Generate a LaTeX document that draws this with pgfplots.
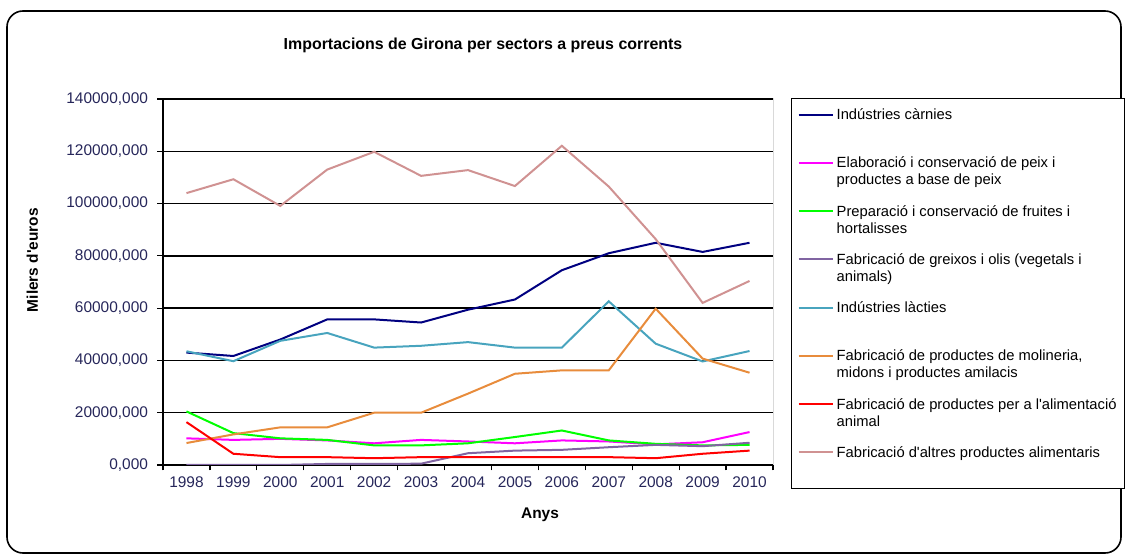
\documentclass[border=0pt]{standalone}
\usepackage{fontspec}
\setmainfont{Liberation Sans}
\usepackage{pgfplots}
\pgfplotsset{compat=1.18}
\definecolor{tickc}{RGB}{38,38,90}
\definecolor{cNavy}{RGB}{0,0,128}
\definecolor{cPeix}{RGB}{255,0,255}
\definecolor{cFruit}{RGB}{0,255,0}
\definecolor{cGreix}{RGB}{128,100,162}
\definecolor{cLact}{RGB}{72,164,190}
\definecolor{cMol}{RGB}{232,140,60}
\definecolor{cAnim}{RGB}{255,0,0}
\definecolor{cAltr}{RGB}{208,146,146}
\newcommand{\lgt}[2]{\begin{tabular}[t]{@{}l@{}}#1\\#2\end{tabular}}
\newcommand{\q}{\textquotesingle}
\begin{document}
\begin{tikzpicture}
\useasboundingbox (0,0) rectangle (1126bp,557bp);
\draw[line width=1.6bp, rounded corners=16bp] (7bp,4bp) rectangle (1121bp,546bp);
\begin{axis}[
  at={(163bp,92bp)}, anchor=south west,
  scale only axis, width=610bp, height=366bp,
  xmin=-0.5, xmax=12.5, ymin=0, ymax=140000,
  scaled y ticks=false,
  xtick={-0.5,0.5,1.5,2.5,3.5,4.5,5.5,6.5,7.5,8.5,9.5,10.5,11.5,12.5},
  x tick label as interval,
  xticklabels={1998,1999,2000,2001,2002,2003,2004,2005,2006,2007,2008,2009,2010},
  ytick={0,20000,40000,60000,80000,100000,120000,140000},
  yticklabels={{0,000},{20000,000},{40000,000},{60000,000},{80000,000},{100000,000},{120000,000},{140000,000}},
  axis x line*=bottom, axis y line*=left,
  axis line style={black, line width=1.5bp, -},
  axis background/.style={draw=black!15, line width=1bp},
  ymajorgrids, major grid style={black, line width=1.5bp},
  tick align=outside, major tick length=5.5bp,
  tick style={black, line width=1.2bp},
  ticklabel style={text=tickc, font=\fontsize{15.5}{18}\selectfont},
  yticklabel style={xshift=-6bp},
  xticklabel style={yshift=-3bp},
  no markers,
  title={Importacions de Girona per sectors a preus corrents},
  title style={font=\bfseries\fontsize{16}{19}\selectfont, at={(axis description cs:0.5246,1.131)}, anchor=center},
  xlabel={Anys},
  xlabel style={font=\bfseries\fontsize{15.5}{18}\selectfont, at={(axis description cs:0.618,-0.135)}, anchor=center},
  ylabel={Milers d\q euros},
  ylabel style={font=\bfseries\fontsize{15.5}{18}\selectfont, at={(axis description cs:-0.214,0.56)}, anchor=center},
  legend image code/.code={\draw[#1] (0bp,5bp) -- (34bp,5bp);},
  legend style={at={(axis description cs:1.0295,1.0027)}, anchor=north west,
    draw=black, line width=1.4bp, fill=white,
    font=\fontsize{14.8}{17}\selectfont,
    inner xsep=6bp, inner ysep=7bp,
    row sep=10.4bp, column sep=1bp,
    cells={anchor=base west},
    nodes={inner sep=2bp, text depth=}},
]
\addplot[cNavy, line width=2bp] coordinates {(0,43000) (1,41700) (2,48000) (3,55700) (4,55700) (5,54500) (6,59400) (7,63300) (8,74500) (9,81000) (10,85000) (11,81500) (12,85000)};
\addlegendentry{\lgt{Indústries càrnies}{\mbox{}}}
\addplot[cPeix, line width=2bp] coordinates {(0,10200) (1,9600) (2,10000) (3,9400) (4,8300) (5,9600) (6,9000) (7,8300) (8,9400) (9,9000) (10,7900) (11,8700) (12,12600)};
\addlegendentry{\lgt{Elaboració i conservació de peix i}{productes a base de peix}}
\addplot[cFruit, line width=2bp] coordinates {(0,20500) (1,12200) (2,10200) (3,9600) (4,7500) (5,7500) (6,8300) (7,10700) (8,13200) (9,9400) (10,8100) (11,7500) (12,7700)};
\addlegendentry{\lgt{Preparació i conservació de fruites i}{hortalisses}}
\addplot[cGreix, line width=2bp] coordinates {(0,0) (1,0) (2,0) (3,400) (4,400) (5,500) (6,4500) (7,5500) (8,5800) (9,6800) (10,7700) (11,7200) (12,8500)};
\addlegendentry{\lgt{Fabricació de greixos i olis (vegetals i}{animals)}}
\addplot[cLact, line width=2bp] coordinates {(0,43500) (1,39700) (2,47500) (3,50500) (4,44900) (5,45600) (6,47000) (7,44900) (8,44900) (9,62600) (10,46400) (11,39600) (12,43600)};
\addlegendentry{\lgt{Indústries làcties}{\mbox{}}}
\addplot[cMol, line width=2bp] coordinates {(0,8400) (1,11700) (2,14400) (3,14400) (4,20000) (5,20000) (6,27300) (7,34900) (8,36200) (9,36200) (10,59800) (11,40700) (12,35300)};
\addlegendentry{\lgt{Fabricació de productes de molineria,}{midons i productes amilacis}}
\addplot[cAnim, line width=2bp] coordinates {(0,16400) (1,4300) (2,3000) (3,3000) (4,2600) (5,3000) (6,3000) (7,3000) (8,3000) (9,3000) (10,2600) (11,4300) (12,5500)};
\addlegendentry{\lgt{Fabricació de productes per a l\q alimentació}{animal}}
\addplot[cAltr, line width=2bp] coordinates {(0,104000) (1,109300) (2,99100) (3,113000) (4,119800) (5,110600) (6,112800) (7,106700) (8,122100) (9,106500) (10,86400) (11,62000) (12,70400)};
\addlegendentry{\lgt{Fabricació d\q altres productes alimentaris}{\mbox{}}}
\end{axis}
\end{tikzpicture}
\end{document}
